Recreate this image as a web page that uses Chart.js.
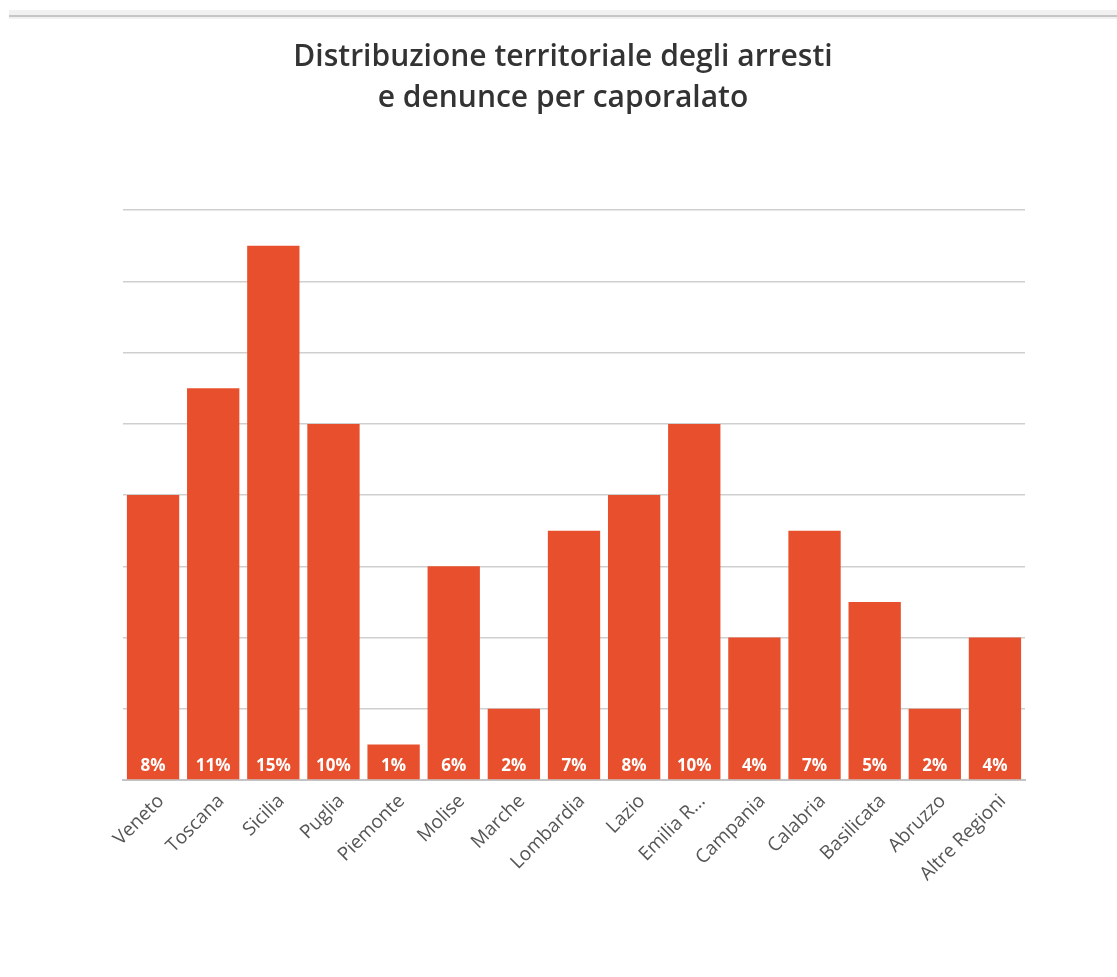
<!DOCTYPE html>
<html>
<head>
<meta charset="utf-8">
<script src="https://cdn.jsdelivr.net/npm/chart.js@4"></script>
<style>
  html, body { margin: 0; padding: 0; background: #fff; }
  #topBar { position: absolute; top: 10px; left: 9px; right: 0; height: 9px; background: #f1f1f1; }
  #topBar div { position: absolute; top: 5px; left: 0; right: 0; height: 2px; background: #c6c6c6; }
  #wrap { position: absolute; top: 0; left: 0; width: 1117px; height: 977px; }
</style>
</head>
<body>
<div id="topBar"><div></div></div>
<div id="wrap"><canvas id="chart"></canvas></div>
<script>
// Dati
const regioni = ['Veneto', 'Toscana', 'Sicilia', 'Puglia', 'Piemonte', 'Molise', 'Marche', 'Lombardia',
    'Lazio', 'Emilia R...', 'Campania', 'Calabria', 'Basilicata', 'Abruzzo', 'Altre Regioni'];
const percentuali = [8, 11, 15, 10, 1, 6, 2, 7, 8, 10, 4, 7, 5, 2, 4];
const titolo = ['Distribuzione territoriale degli arresti', 'e denunce per caporalato'];

const barColor = '#e8502d';

// Etichette percentuali dentro le barre
const valueLabels = {
    id: 'valueLabels',
    afterDatasetsDraw(chart) {
        const ctx = chart.ctx;
        const meta = chart.getDatasetMeta(0);
        ctx.save();
        ctx.fillStyle = '#ffffff';
        ctx.font = 'bold 17px "Open Sans", sans-serif';
        ctx.textAlign = 'center';
        ctx.textBaseline = 'middle';
        meta.data.forEach((bar, i) => {
            ctx.fillText(percentuali[i] + '%', bar.x, chart.chartArea.bottom - 14);
        });
        ctx.restore();
    }
};

const ctx = document.getElementById('chart');
new Chart(ctx, {
    type: 'bar',
    data: {
        labels: regioni,
        datasets: [{
            data: percentuali,
            backgroundColor: barColor,
            barPercentage: 0.87,
            categoryPercentage: 1
        }]
    },
    options: {
        responsive: true,
        maintainAspectRatio: false,
        animation: false,
        layout: {
            padding: { left: 101, right: 92, top: 0, bottom: 0 }
        },
        plugins: {
            legend: { display: false },
            tooltip: { enabled: false },
            title: {
                display: true,
                text: titolo,
                color: '#333333',
                font: { family: '"Open Sans", sans-serif', size: 30, weight: '600', lineHeight: 1.37 },
                padding: { top: 37, bottom: 91 }
            }
        },
        scales: {
            x: {
                grid: { display: false, drawTicks: false },
                border: { display: true, color: '#c4c4c4', width: 2 },
                ticks: {
                    color: '#555555',
                    font: { family: '"Open Sans", sans-serif', size: 19 },
                    minRotation: 45,
                    maxRotation: 45,
                    autoSkip: false,
                    padding: 10,
                    labelOffset: 8
                },
                afterFit(axis) { axis.height = 197; }
            },
            y: {
                min: 0,
                max: 16,
                ticks: { display: false, stepSize: 2 },
                grid: { color: '#cfcfcf', lineWidth: 1.5, drawTicks: false },
                border: { display: false },
                afterFit(axis) { axis.width = 22; }
            }
        }
    },
    plugins: [valueLabels]
});
</script>
</body>
</html>
